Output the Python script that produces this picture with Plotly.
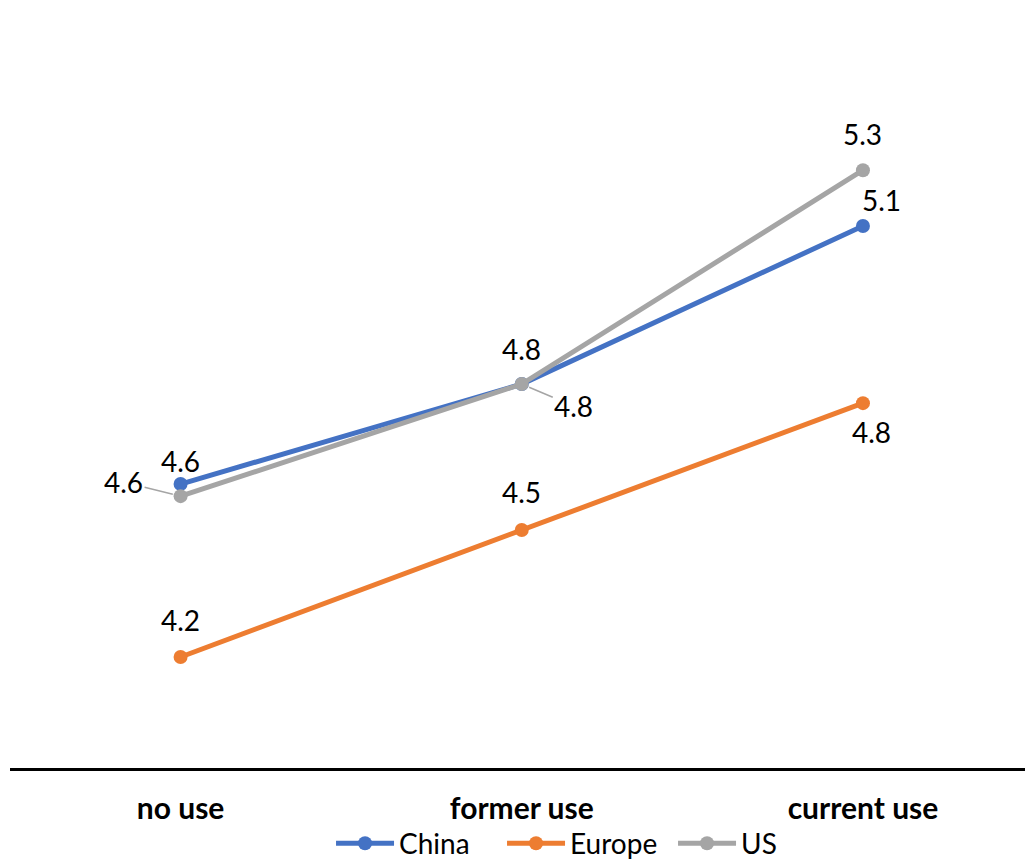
import plotly.graph_objects as go

# Categories and mean scores per region
categories = ["no use", "former use", "current use"]
china = [4.582, 4.797, 5.137]
europe = [4.210, 4.483, 4.756]
us = [4.556, 4.797, 5.257]

series = [
    ("China", china, "#4472C4"),
    ("Europe", europe, "#ED7D31"),
    ("US", us, "#A5A5A5"),
]

# Label placement per point: (xshift, yshift, leader) in pixels; yshift > 0 is upward
label_offsets = {
    "China": [(0, 23, False), (0, 35, False), (19, 26, False)],
    "Europe": [(0, 37, False), (0, 38, False), (9, -29, False)],
    "US": [(-57, 14, True), (52, -22, True), (0, 36, False)],
}

FONT = "Lato, 'Open Sans', sans-serif"
FS = 28

fig = go.Figure()
for name, vals, color in series:
    fig.add_trace(go.Scatter(
        x=list(range(len(categories))), y=vals, name=name,
        mode="lines+markers",
        line=dict(color=color, width=5),
        marker=dict(color=color, size=14),
    ))

annotations = []
for name, vals, color in series:
    for i, v in enumerate(vals):
        dx, dy, leader = label_offsets[name][i]
        txt = f"{v:.1f}"
        if leader:
            annotations.append(dict(
                x=i, y=v, xref="x", yref="y", text=txt,
                showarrow=True, arrowhead=0, arrowwidth=1.5,
                arrowcolor="#A5A5A5", ax=dx, ay=-dy, standoff=8,
                font=dict(family=FONT, size=FS, color="black"),
            ))
        else:
            annotations.append(dict(
                x=i, y=v, xref="x", yref="y", text=txt,
                showarrow=False, xanchor="center", yanchor="middle",
                xshift=dx, yshift=dy,
                font=dict(family=FONT, size=FS, color="black"),
            ))

fig.update_layout(
    width=1025, height=862,
    margin=dict(l=10, r=0, t=20, b=94, autoexpand=False),
    paper_bgcolor="white", plot_bgcolor="white",
    font=dict(family=FONT, color="black"),
    showlegend=True,
    legend=dict(
        orientation="h", x=0.569, xanchor="center", y=-0.101, yanchor="middle",
        font=dict(family=FONT, size=28, color="black"),
        bgcolor="rgba(0,0,0,0)",
        itemwidth=58, entrywidth=98, entrywidthmode="pixels",
        traceorder="normal",
    ),
    annotations=annotations,
    xaxis=dict(
        tickmode="array", tickvals=list(range(len(categories))),
        ticktext=[f"<b>{c}</b>" for c in categories],
        range=[-0.5, 2.475], showgrid=False, zeroline=False,
        showline=True, linecolor="black", linewidth=3,
        ticks="", ticklabelstandoff=12, automargin=False,
        tickfont=dict(family=FONT, size=30, color="black"),
    ),
    yaxis=dict(
        range=[3.9713, 5.580], showgrid=False, zeroline=False,
        showline=False, showticklabels=False, ticks="", automargin=False,
    ),
)

fig.write_html("out.html")
